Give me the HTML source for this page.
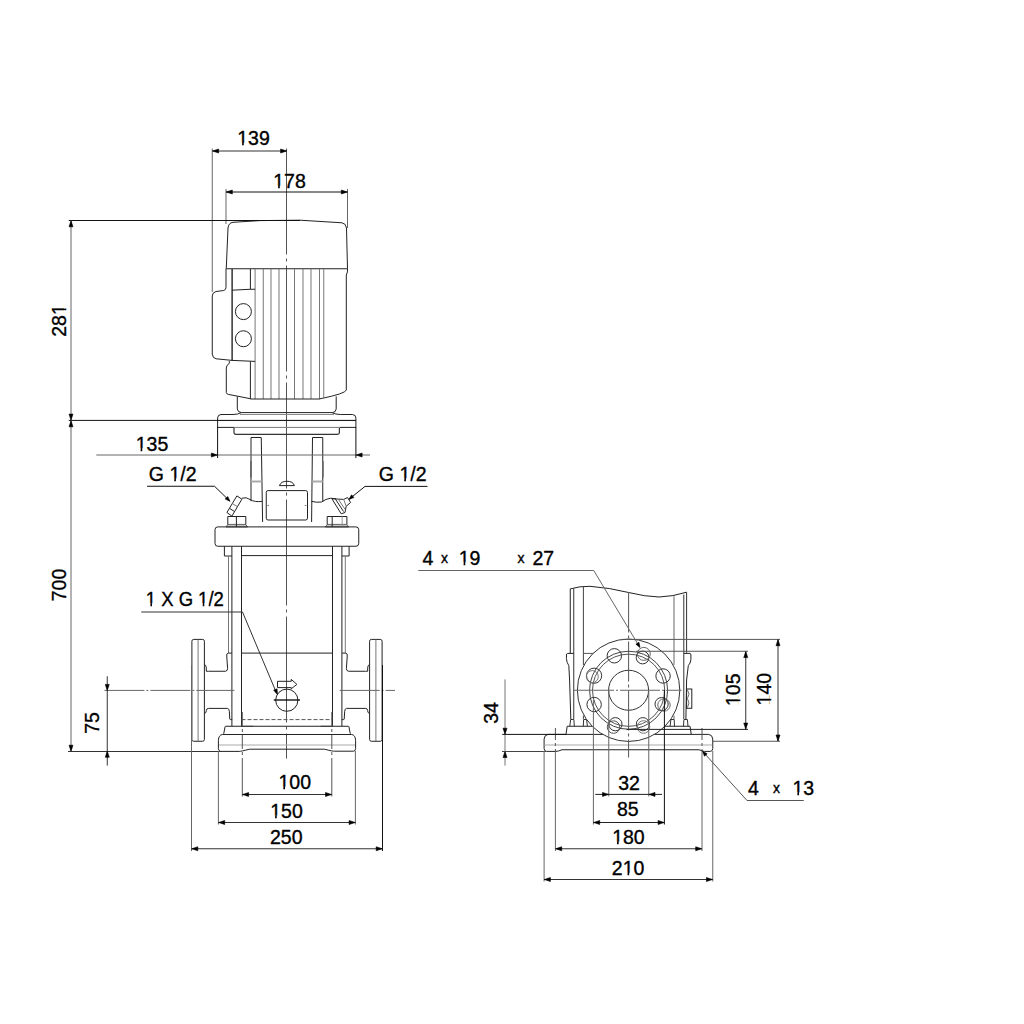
<!DOCTYPE html>
<html><head><meta charset="utf-8"><style>
html,body{margin:0;padding:0;background:#fff;}
svg{display:block;}
text{font-family:"Liberation Sans",sans-serif;fill:#000;stroke:#000;stroke-width:0.35px;}
</style></head><body>
<svg width="1024" height="1024" viewBox="0 0 1024 1024" stroke-linecap="butt">
<path d="M286.5,148.5 V758.6" stroke="#555" stroke-width="1" fill="none" stroke-dasharray="106,4,3,4"/>
<path d="M226.25,268.75 L228,228 Q228.5,222.8 233,222.3 L260,220.6 L300,220.2 L342,222.8 Q346,223.5 346.5,228 L347.5,268.75 Z" stroke="#222" stroke-width="1" fill="none"/>
<path d="M347.5,268.75 Q348,272 346.3,275 V390 Q346,393.5 320,398.8" stroke="#222" stroke-width="1" fill="none"/>
<line x1="255.1" y1="269" x2="255.1" y2="399" stroke="#777" stroke-width="1"/>
<line x1="263.25" y1="269" x2="263.25" y2="399" stroke="#777" stroke-width="1"/>
<line x1="271" y1="269" x2="271" y2="399" stroke="#777" stroke-width="1"/>
<line x1="279" y1="269" x2="279" y2="399" stroke="#777" stroke-width="1"/>
<line x1="294.5" y1="269" x2="294.5" y2="399" stroke="#777" stroke-width="1"/>
<line x1="303" y1="269" x2="303" y2="399" stroke="#777" stroke-width="1"/>
<line x1="311" y1="269" x2="311" y2="399" stroke="#777" stroke-width="1"/>
<line x1="319.5" y1="269" x2="319.5" y2="399" stroke="#777" stroke-width="1"/>
<line x1="323.75" y1="269" x2="323.75" y2="398.5" stroke="#777" stroke-width="1"/>
<line x1="250.5" y1="399" x2="320" y2="399" stroke="#222" stroke-width="1"/>
<path d="M226,268.6 V287.2 Q226,290 223.7,290.5 L216,291.5 Q212.3,292.5 212.25,296 V354 Q212.5,358.3 216.2,358.8 L232.1,360.4 L255.1,361.4" stroke="#222" stroke-width="1" fill="none"/>
<path d="M232.1,269 V360.4" stroke="#000" stroke-width="1.2" fill="none"/>
<path d="M232.1,290.2 L250.4,289.25 L255.1,289.25" stroke="#222" stroke-width="1" fill="none"/>
<line x1="250.4" y1="269" x2="250.4" y2="289.25" stroke="#222" stroke-width="1"/>
<circle cx="243.4" cy="311.6" r="8" stroke="#222" stroke-width="1" fill="none"/>
<circle cx="243.4" cy="338.75" r="8" stroke="#222" stroke-width="1" fill="none"/>
<path d="M229.3,361.1 V363.4 Q226.3,365 226.3,368.1 V392.5 Q226.5,394.2 228.4,394.4 L250.9,398.8" stroke="#222" stroke-width="1" fill="none"/>
<line x1="250.4" y1="361.4" x2="250.4" y2="398.6" stroke="#222" stroke-width="1"/>
<path d="M237.3,396.4 V408.9 Q237.5,412.3 241.5,412.6 H332.5 Q336,412.3 336.2,408.9 V396.4" stroke="#222" stroke-width="1" fill="none"/>
<path d="M241.5,412.6 Q238,414.5 233,414.5 H221 Q217.6,414.8 217.6,418 V427.4 H234" stroke="#222" stroke-width="1" fill="none"/>
<path d="M332,412.6 Q335.5,414.5 340.5,414.5 H352.5 Q355.9,414.8 355.9,418 V427.4 H339.5" stroke="#222" stroke-width="1" fill="none"/>
<line x1="234" y1="427.4" x2="339.5" y2="427.4" stroke="#777" stroke-width="1"/>
<line x1="240" y1="414.5" x2="334" y2="414.5" stroke="#888" stroke-width="1"/>
<line x1="217.6" y1="420.4" x2="355.9" y2="420.4" stroke="#000" stroke-width="1"/>
<path d="M234,428 V432.8 Q234.3,434.2 236,434.4 H337.5 Q339.3,434.2 339.4,432.8 V428" stroke="#333" stroke-width="1.2" fill="none"/>
<path d="M251,501.25 V437.5 H261.25 L262.6,522" stroke="#222" stroke-width="1" fill="none"/>
<path d="M322.75,501.9 V437.5 H312.5 L311.6,522" stroke="#222" stroke-width="1" fill="none"/>
<line x1="251" y1="481.5" x2="261.8" y2="481.5" stroke="#aaa" stroke-width="2"/>
<line x1="312.2" y1="481.5" x2="322.75" y2="481.5" stroke="#aaa" stroke-width="2"/>
<path d="M250.9,461 V477.5" stroke="#666" stroke-width="1.6" fill="none"/>
<path d="M322.9,461 V477.5" stroke="#666" stroke-width="1.6" fill="none"/>
<path d="M279.4,485.6 Q281,481.25 287,481.25 Q293,481.25 294.4,485.6 Z" stroke="#222" stroke-width="1" fill="none"/>
<rect x="266.25" y="490.6" width="41.25" height="29.4" rx="1.8" fill="none" stroke="#222" stroke-width="1"/>
<line x1="267.5" y1="505.5" x2="269" y2="505.5" stroke="#777" stroke-width="1"/>
<line x1="304.8" y1="505.5" x2="306.3" y2="505.5" stroke="#777" stroke-width="1"/>
<path d="M241.9,498.2 Q246.5,496.8 250,499.5 Q255,502.5 262.3,501.3" stroke="#222" stroke-width="1" fill="none"/>
<path d="M311.4,501.3 Q317,502.8 321.5,502 Q326,498.8 330.6,498.2 L336,498.8" stroke="#222" stroke-width="1" fill="none"/>
<path d="M226.9,512.5 L236.9,495.9 L241.9,499.2 L231.9,516.1 Z" stroke="#222" stroke-width="1" fill="none"/>
<line x1="229.6" y1="508.4" x2="234.5" y2="511.5" stroke="#222" stroke-width="1"/>
<line x1="232.4" y1="503.6" x2="237.4" y2="506.6" stroke="#777" stroke-width="1"/>
<path d="M331.9,498.75 L341.2,513.8 L345,512.5 L346.2,506.2 L350.6,502.5 L347.6,497.5 L343.7,499.4 Z" stroke="#222" stroke-width="1" fill="none"/>
<line x1="335.5" y1="499.2" x2="343.5" y2="511.5" stroke="#222" stroke-width="1"/>
<line x1="338.5" y1="499.5" x2="345.2" y2="509.5" stroke="#777" stroke-width="1"/>
<line x1="343.7" y1="499.4" x2="346.2" y2="506.2" stroke="#777" stroke-width="1"/>
<path d="M226.0,527 L227.8,524.4 H245.8 L247.60000000000002,527 Z" stroke="#444" stroke-width="0.8" fill="#c4c4c4"/>
<path d="M227.8,524.4 V516.5 H245.8 V524.4" stroke="#222" stroke-width="1" fill="none"/>
<line x1="236.4" y1="516.5" x2="236.4" y2="527" stroke="#222" stroke-width="1"/>
<path d="M325.4,527 L327.2,524.4 H346.9 L348.7,527 Z" stroke="#444" stroke-width="0.8" fill="#c4c4c4"/>
<path d="M327.2,524.4 V516.5 H346.9 V524.4" stroke="#222" stroke-width="1" fill="none"/>
<line x1="332.2" y1="516.5" x2="332.2" y2="527" stroke="#222" stroke-width="1"/>
<line x1="342.2" y1="516.5" x2="342.2" y2="527" stroke="#999" stroke-width="1"/>
<rect x="215" y="526.9" width="143.75" height="19.35" rx="2.8" fill="none" stroke="#222" stroke-width="1"/>
<path d="M224.4,546.25 V556 H231.9" stroke="#222" stroke-width="1" fill="none"/>
<path d="M349.1,546.25 V556 H341.9" stroke="#222" stroke-width="1" fill="none"/>
<path d="M231.9,546.25 V726.25" stroke="#222" stroke-width="1" fill="none"/>
<path d="M241.5,546.25 V726.25" stroke="#222" stroke-width="1" fill="none"/>
<path d="M332.5,546.25 V726.25" stroke="#222" stroke-width="1" fill="none"/>
<path d="M341.9,546.25 V726.25" stroke="#222" stroke-width="1" fill="none"/>
<line x1="241.5" y1="555.6" x2="332.5" y2="555.6" stroke="#222" stroke-width="1"/>
<line x1="228.5" y1="556" x2="228.5" y2="653.1" stroke="#777" stroke-width="1"/>
<line x1="345.3" y1="556" x2="345.3" y2="653.1" stroke="#777" stroke-width="1"/>
<line x1="241.5" y1="653.1" x2="332.5" y2="653.1" stroke="#222" stroke-width="1"/>
<line x1="241.5" y1="719.6" x2="332.5" y2="719.6" stroke="#555" stroke-width="1" stroke-dasharray="4,2"/>
<line x1="241.5" y1="726.25" x2="253.25" y2="726.25" stroke="#777" stroke-width="1"/>
<line x1="320.5" y1="726.25" x2="332.5" y2="726.25" stroke="#777" stroke-width="1"/>
<rect x="191.9" y="639.4" width="12.5" height="101.85" rx="1.8" fill="none" stroke="#222" stroke-width="1"/>
<line x1="198.1" y1="639.6" x2="198.1" y2="741" stroke="#777" stroke-width="1"/>
<path d="M204.4,664.4 Q206.3,665 206.3,668 V671.25 Q206.5,671.25 208.5,671.25 H225.5 Q227.6,671 227.6,668.5 L226.8,657 Q226,653.1 228.5,653.1 H231.9" stroke="#222" stroke-width="1" fill="none"/>
<path d="M204.4,713.5 Q206.3,713 206.3,711 V710.5 Q206.5,708.4 208.5,708.4 H227.5 Q229.3,708.8 229.3,711.25 L229.8,719.2 Q230,719.7 232.2,719.7" stroke="#222" stroke-width="1" fill="none"/>
<rect x="369.6" y="639.4" width="12.5" height="101.85" rx="1.8" fill="none" stroke="#222" stroke-width="1"/>
<line x1="375.9" y1="639.6" x2="375.9" y2="741" stroke="#777" stroke-width="1"/>
<path d="M369.6,664.4 Q367.7,665 367.7,668 V671.25 Q367.5,671.25 365.5,671.25 H348.5 Q346.4,671 346.4,668.5 L347.2,657 Q348,653.1 345.5,653.1 H342.1" stroke="#222" stroke-width="1" fill="none"/>
<path d="M369.6,713.5 Q367.7,713 367.7,711 V710.5 Q367.5,708.4 365.5,708.4 H346.5 Q344.7,708.8 344.7,711.25 L344.2,719.2 Q344,719.7 341.8,719.7" stroke="#222" stroke-width="1" fill="none"/>
<line x1="104.4" y1="690.4" x2="234.4" y2="690.4" stroke="#666" stroke-width="1" stroke-dasharray="40,2,2,2"/>
<line x1="339.6" y1="690.4" x2="395" y2="690.4" stroke="#666" stroke-width="1" stroke-dasharray="40,2,2,2"/>
<circle cx="286.8" cy="700.2" r="11.1" stroke="#222" stroke-width="1" fill="none"/>
<line x1="273.75" y1="700" x2="300" y2="700" stroke="#000" stroke-width="1.3"/>
<path d="M277.5,681.3 H291.25 V679.4 L296.9,684.4 L291.25,688.75 V687.6 H277.5 Z" stroke="#222" stroke-width="1" fill="none"/>
<path d="M223.7,733.8 L225.1,726.7 Q225.3,726.25 226,726.25 H348 Q348.7,726.25 348.9,726.7 L350.3,733.8" stroke="#222" stroke-width="1" fill="none"/>
<path d="M222.3,734.5 H351.7 Q355.3,735 355.6,740.3 V748.7 Q355.4,751 353.6,751.2 H334.8 Q333,751.4 324.5,749.2 H249.5 Q241,751.4 239.2,751.4 H220.4 Q218.6,751 218.4,748.7 V740.3 Q218.7,735 222.3,734.5 Z" stroke="#222" stroke-width="1" fill="none"/>
<line x1="219" y1="745" x2="355" y2="745" stroke="#aaa" stroke-width="1.2"/>
<line x1="242.3" y1="712" x2="242.3" y2="758" stroke="#555" stroke-width="1" stroke-dasharray="14,3,3,3"/>
<line x1="242.3" y1="758" x2="242.3" y2="796.5" stroke="#555" stroke-width="1"/>
<line x1="331.8" y1="712" x2="331.8" y2="758" stroke="#555" stroke-width="1" stroke-dasharray="14,3,3,3"/>
<line x1="331.8" y1="758" x2="331.8" y2="796.5" stroke="#555" stroke-width="1"/>
<line x1="212.25" y1="148.5" x2="212.25" y2="292" stroke="#666" stroke-width="1"/>
<line x1="212.25" y1="151" x2="286.5" y2="151" stroke="#333" stroke-width="1"/>
<path d="M212.60,151.00L218.60,149.00L218.60,153.00Z" fill="#000" stroke="#000" stroke-width="0.6" stroke-linejoin="round"/>
<path d="M286.60,151.00L280.60,153.00L280.60,149.00Z" fill="#000" stroke="#000" stroke-width="0.6" stroke-linejoin="round"/>
<line x1="226" y1="189" x2="226" y2="224" stroke="#666" stroke-width="1"/>
<line x1="347.5" y1="189" x2="347.5" y2="228" stroke="#666" stroke-width="1"/>
<line x1="226" y1="192" x2="347.5" y2="192" stroke="#111" stroke-width="1"/>
<path d="M226.30,192.00L232.30,190.00L232.30,194.00Z" fill="#000" stroke="#000" stroke-width="0.6" stroke-linejoin="round"/>
<path d="M347.30,192.00L341.30,194.00L341.30,190.00Z" fill="#000" stroke="#000" stroke-width="0.6" stroke-linejoin="round"/>
<line x1="68.75" y1="220.5" x2="300" y2="220.5" stroke="#111" stroke-width="1"/>
<line x1="71" y1="220.5" x2="71" y2="420.4" stroke="#666" stroke-width="1"/>
<path d="M71.00,220.80L73.00,226.80L69.00,226.80Z" fill="#000" stroke="#000" stroke-width="0.6" stroke-linejoin="round"/>
<path d="M71.00,420.10L69.00,414.10L73.00,414.10Z" fill="#000" stroke="#000" stroke-width="0.6" stroke-linejoin="round"/>
<line x1="71" y1="420.4" x2="71" y2="751.5" stroke="#666" stroke-width="1"/>
<path d="M71.00,420.80L73.00,426.80L69.00,426.80Z" fill="#000" stroke="#000" stroke-width="0.6" stroke-linejoin="round"/>
<path d="M71.00,751.20L69.00,745.20L73.00,745.20Z" fill="#000" stroke="#000" stroke-width="0.6" stroke-linejoin="round"/>
<line x1="68.75" y1="420.4" x2="218" y2="420.4" stroke="#111" stroke-width="1"/>
<line x1="68" y1="751.5" x2="222" y2="751.5" stroke="#333" stroke-width="1"/>
<line x1="96.25" y1="455" x2="370" y2="455" stroke="#666" stroke-width="1"/>
<line x1="217.6" y1="427" x2="217.6" y2="458" stroke="#111" stroke-width="1"/>
<line x1="355.9" y1="427" x2="355.9" y2="458" stroke="#111" stroke-width="1"/>
<path d="M217.40,455.00L211.40,457.00L211.40,453.00Z" fill="#000" stroke="#000" stroke-width="0.6" stroke-linejoin="round"/>
<path d="M356.10,455.00L362.10,453.00L362.10,457.00Z" fill="#000" stroke="#000" stroke-width="0.6" stroke-linejoin="round"/>
<path d="M147,486.25 H214.5 L229.5,500.8" stroke="#111" stroke-width="1" fill="none"/>
<path d="M230.00,501.30L225.19,499.04L227.74,496.49Z" fill="#000" stroke="#000" stroke-width="0.6" stroke-linejoin="round"/>
<path d="M427.5,486.4 H365 L349.5,498.9" stroke="#111" stroke-width="1" fill="none"/>
<path d="M348.90,499.40L351.59,494.82L353.89,497.58Z" fill="#000" stroke="#000" stroke-width="0.6" stroke-linejoin="round"/>
<path d="M141.25,612 H242.5 L276.5,693" stroke="#333" stroke-width="1" fill="none"/>
<path d="M277.50,694.60L273.71,690.23L277.03,688.83Z" fill="#000" stroke="#000" stroke-width="0.6" stroke-linejoin="round"/>
<line x1="107.25" y1="676.25" x2="107.25" y2="765.6" stroke="#333" stroke-width="1"/>
<path d="M107.25,690.40L105.25,684.40L109.25,684.40Z" fill="#000" stroke="#000" stroke-width="0.6" stroke-linejoin="round"/>
<path d="M107.25,751.25L109.25,757.25L105.25,757.25Z" fill="#000" stroke="#000" stroke-width="0.6" stroke-linejoin="round"/>
<line x1="242.3" y1="794.5" x2="331.8" y2="794.5" stroke="#333" stroke-width="1"/>
<path d="M242.60,794.50L248.60,792.50L248.60,796.50Z" fill="#000" stroke="#000" stroke-width="0.6" stroke-linejoin="round"/>
<path d="M331.50,794.50L325.50,796.50L325.50,792.50Z" fill="#000" stroke="#000" stroke-width="0.6" stroke-linejoin="round"/>
<line x1="218.4" y1="751" x2="218.4" y2="824.5" stroke="#666" stroke-width="1"/>
<line x1="355.4" y1="751" x2="355.4" y2="824.5" stroke="#666" stroke-width="1"/>
<line x1="218.4" y1="822.5" x2="355.4" y2="822.5" stroke="#333" stroke-width="1"/>
<path d="M218.70,822.50L224.70,820.50L224.70,824.50Z" fill="#000" stroke="#000" stroke-width="0.6" stroke-linejoin="round"/>
<path d="M355.10,822.50L349.10,824.50L349.10,820.50Z" fill="#000" stroke="#000" stroke-width="0.6" stroke-linejoin="round"/>
<line x1="191.5" y1="665" x2="191.5" y2="851" stroke="#666" stroke-width="1"/>
<line x1="382.5" y1="665" x2="382.5" y2="851" stroke="#111" stroke-width="1"/>
<line x1="191.5" y1="848.75" x2="382.5" y2="848.75" stroke="#333" stroke-width="1"/>
<path d="M191.80,848.75L197.80,846.75L197.80,850.75Z" fill="#000" stroke="#000" stroke-width="0.6" stroke-linejoin="round"/>
<path d="M382.20,848.75L376.20,850.75L376.20,846.75Z" fill="#000" stroke="#000" stroke-width="0.6" stroke-linejoin="round"/>
<path d="M570.25,588.9 Q580,586 590,586.3 Q610,587.8 628.6,592.5 Q645,596.6 659,597 Q673,596.6 686.6,592.2" stroke="#222" stroke-width="1" fill="none"/>
<line x1="570.25" y1="588.9" x2="570.25" y2="653.4" stroke="#222" stroke-width="1"/>
<line x1="573.75" y1="588.5" x2="573.75" y2="719" stroke="#333" stroke-width="1"/>
<line x1="583.4" y1="587" x2="583.4" y2="665" stroke="#444" stroke-width="1"/>
<line x1="583.4" y1="715.5" x2="583.4" y2="719" stroke="#444" stroke-width="1"/>
<line x1="674" y1="596.3" x2="674" y2="665" stroke="#666" stroke-width="1"/>
<line x1="674" y1="715.5" x2="674" y2="719" stroke="#666" stroke-width="1"/>
<line x1="683.8" y1="594.5" x2="683.8" y2="719" stroke="#333" stroke-width="1"/>
<line x1="686.6" y1="592.2" x2="686.6" y2="652.75" stroke="#333" stroke-width="1"/>
<path d="M573.75,653.4 H567.5 Q566.5,653.6 566.5,655 L566.4,658.5 Q566.8,663 568.8,665.5 L569.6,680 L570.8,719" stroke="#222" stroke-width="1" fill="none"/>
<path d="M683.8,653.4 H690 Q690.9,653.6 690.9,655 V659.5 Q690.5,663.5 688.3,665.6 L686.6,680 L685.9,719" stroke="#222" stroke-width="1" fill="none"/>
<line x1="583.4" y1="653.4" x2="595" y2="653.4" stroke="#555" stroke-width="1"/>
<path d="M569.8,726.25 L570.6,719.5 H573.9 L574.3,726.25" stroke="#333" stroke-width="1" fill="none"/>
<path d="M583.3,726.25 L583.6,719.5 H586.6 L587.4,726.25" stroke="#333" stroke-width="1" fill="none"/>
<path d="M670.1,726.25 L670.9,719.5 H674.2 L674.5,726.25" stroke="#333" stroke-width="1" fill="none"/>
<path d="M683.5,726.25 L683.9,719.5 H687.4 L688,726.25" stroke="#333" stroke-width="1" fill="none"/>
<path d="M566,734.4 L567.2,726.25 H690 L691.25,734.4" stroke="#222" stroke-width="1" fill="none"/>
<path d="M548,734.4 H708.8 Q712.5,735 712.75,739 V748.5 Q712.6,751.2 710.5,751.4 H704.5 Q702.5,751 699,749.75 H562 Q558,751.4 556,751.4 H546.5 Q544.2,751.2 544.1,748.5 V739 Q544.3,735 548,734.4 Z" stroke="#222" stroke-width="1" fill="none"/>
<line x1="544.5" y1="745" x2="712.3" y2="745" stroke="#aaa" stroke-width="1.2"/>
<circle cx="628.6" cy="690.25" r="51.2" fill="#fff" stroke="#333" stroke-width="1"/>
<circle cx="628.6" cy="690.25" r="20" stroke="#333" stroke-width="1" fill="none"/>
<circle cx="628.6" cy="690.25" r="39" stroke="#444" stroke-width="1" fill="none"/>
<circle cx="628.6" cy="690.25" r="36.1" stroke="#555" stroke-width="1" fill="none"/>
<circle cx="642.6" cy="657.5" r="6.4" stroke="#333" stroke-width="1" fill="none"/>
<circle cx="643.8" cy="653.9" r="6.5" stroke="#666" stroke-width="1" fill="none"/>
<circle cx="663.06" cy="675.98" r="7.2" stroke="#333" stroke-width="1" fill="none"/>
<circle cx="661.6" cy="704.1" r="6.6" stroke="#333" stroke-width="1" fill="none"/>
<circle cx="664" cy="705" r="6.2" stroke="#666" stroke-width="1" fill="none"/>
<circle cx="642.9" cy="724.2" r="6.6" stroke="#333" stroke-width="1" fill="none"/>
<circle cx="643.5" cy="727" r="6.3" stroke="#777" stroke-width="1" fill="none"/>
<circle cx="615.4" cy="724.2" r="6.6" stroke="#333" stroke-width="1" fill="none"/>
<circle cx="613.5" cy="727.1" r="6.25" stroke="#555" stroke-width="1" fill="none"/>
<circle cx="594.14" cy="704.52" r="7.2" stroke="#333" stroke-width="1" fill="none"/>
<circle cx="594.1" cy="675.7" r="7.6" stroke="#333" stroke-width="1" fill="none"/>
<circle cx="592.3" cy="676.6" r="6.0" stroke="#777" stroke-width="1" fill="none"/>
<circle cx="614.33" cy="655.79" r="7.2" stroke="#333" stroke-width="1" fill="none"/>
<line x1="574" y1="690.25" x2="681.5" y2="690.25" stroke="#666" stroke-width="1" stroke-dasharray="40,2,2,2"/>
<line x1="628.6" y1="592.5" x2="628.6" y2="757.5" stroke="#555" stroke-width="1" stroke-dasharray="40,3,3,3"/>
<rect x="686.6" y="689" width="5.2" height="19.3" fill="none" stroke="#222" stroke-width="1"/>
<path d="M687.5,690 Q690.5,694 687.5,698.5 Q690.5,703 687.5,707.5" stroke="#444" stroke-width="0.8" fill="none"/>
<line x1="555.4" y1="728" x2="555.4" y2="752" stroke="#555" stroke-width="1" stroke-dasharray="12,3,3,3"/>
<line x1="555.4" y1="752" x2="555.4" y2="851" stroke="#666" stroke-width="1"/>
<line x1="702" y1="728" x2="702" y2="752" stroke="#555" stroke-width="1" stroke-dasharray="12,3,3,3"/>
<line x1="702" y1="752" x2="702" y2="851" stroke="#666" stroke-width="1"/>
<path d="M418.25,570.5 H593.75 L639.5,646.8" stroke="#666" stroke-width="1" fill="none"/>
<path d="M640.00,647.50L635.88,644.14L638.97,642.29Z" fill="#000" stroke="#000" stroke-width="0.6" stroke-linejoin="round"/>
<line x1="621.5" y1="639.4" x2="780" y2="639.4" stroke="#555" stroke-width="1"/>
<line x1="712.5" y1="741.25" x2="780" y2="741.25" stroke="#555" stroke-width="1"/>
<line x1="778" y1="639.4" x2="778" y2="741.25" stroke="#333" stroke-width="1"/>
<path d="M778.00,639.70L780.00,645.70L776.00,645.70Z" fill="#000" stroke="#000" stroke-width="0.6" stroke-linejoin="round"/>
<path d="M778.00,741.00L776.00,735.00L780.00,735.00Z" fill="#000" stroke="#000" stroke-width="0.6" stroke-linejoin="round"/>
<line x1="636" y1="651.25" x2="748" y2="651.25" stroke="#555" stroke-width="1"/>
<line x1="626.5" y1="729.4" x2="748" y2="729.4" stroke="#222" stroke-width="1"/>
<line x1="745.75" y1="651.4" x2="745.75" y2="729.4" stroke="#333" stroke-width="1"/>
<path d="M745.75,651.60L747.75,657.60L743.75,657.60Z" fill="#000" stroke="#000" stroke-width="0.6" stroke-linejoin="round"/>
<path d="M745.75,729.10L743.75,723.10L747.75,723.10Z" fill="#000" stroke="#000" stroke-width="0.6" stroke-linejoin="round"/>
<line x1="505" y1="679.4" x2="505" y2="765.6" stroke="#777" stroke-width="1"/>
<path d="M505.00,734.20L503.00,728.20L507.00,728.20Z" fill="#000" stroke="#000" stroke-width="0.6" stroke-linejoin="round"/>
<path d="M505.00,751.50L507.00,757.50L503.00,757.50Z" fill="#000" stroke="#000" stroke-width="0.6" stroke-linejoin="round"/>
<line x1="502.25" y1="734.4" x2="566" y2="734.4" stroke="#111" stroke-width="1"/>
<line x1="502" y1="751.5" x2="546" y2="751.5" stroke="#444" stroke-width="1"/>
<line x1="608.75" y1="690.5" x2="608.75" y2="796.5" stroke="#666" stroke-width="1"/>
<line x1="648.75" y1="690.5" x2="648.75" y2="796.5" stroke="#666" stroke-width="1"/>
<line x1="595.25" y1="794.4" x2="662" y2="794.4" stroke="#222" stroke-width="1"/>
<path d="M608.50,794.40L602.50,796.40L602.50,792.40Z" fill="#000" stroke="#000" stroke-width="0.6" stroke-linejoin="round"/>
<path d="M649.00,794.40L655.00,792.40L655.00,796.40Z" fill="#000" stroke="#000" stroke-width="0.6" stroke-linejoin="round"/>
<line x1="593.4" y1="700" x2="593.4" y2="824.5" stroke="#666" stroke-width="1"/>
<line x1="664.4" y1="690" x2="664.4" y2="824.5" stroke="#111" stroke-width="1"/>
<line x1="593.4" y1="822.5" x2="664.4" y2="822.5" stroke="#222" stroke-width="1"/>
<path d="M593.70,822.50L599.70,820.50L599.70,824.50Z" fill="#000" stroke="#000" stroke-width="0.6" stroke-linejoin="round"/>
<path d="M664.10,822.50L658.10,824.50L658.10,820.50Z" fill="#000" stroke="#000" stroke-width="0.6" stroke-linejoin="round"/>
<line x1="555.4" y1="848.75" x2="702" y2="848.75" stroke="#333" stroke-width="1"/>
<path d="M555.70,848.75L561.70,846.75L561.70,850.75Z" fill="#000" stroke="#000" stroke-width="0.6" stroke-linejoin="round"/>
<path d="M701.70,848.75L695.70,850.75L695.70,846.75Z" fill="#000" stroke="#000" stroke-width="0.6" stroke-linejoin="round"/>
<line x1="544.1" y1="751" x2="544.1" y2="881.5" stroke="#666" stroke-width="1"/>
<line x1="712.75" y1="751" x2="712.75" y2="881.5" stroke="#666" stroke-width="1"/>
<line x1="544.1" y1="879.5" x2="712.75" y2="879.5" stroke="#333" stroke-width="1"/>
<path d="M544.40,879.50L550.40,877.50L550.40,881.50Z" fill="#000" stroke="#000" stroke-width="0.6" stroke-linejoin="round"/>
<path d="M712.45,879.50L706.45,881.50L706.45,877.50Z" fill="#000" stroke="#000" stroke-width="0.6" stroke-linejoin="round"/>
<path d="M803.75,800.5 H747 L703,751.8" stroke="#555" stroke-width="1" fill="none"/>
<path d="M702.50,751.25L707.18,753.76L704.51,756.17Z" fill="#000" stroke="#000" stroke-width="0.6" stroke-linejoin="round"/>
<text x="253.5" y="145" font-size="19.5" text-anchor="middle">139</text>
<text x="289.5" y="188" font-size="19.5" text-anchor="middle">178</text>
<text x="66" y="320.5" font-size="19.5" text-anchor="middle" transform="rotate(-90 66 320.5)">281</text>
<text x="66" y="585" font-size="19.5" text-anchor="middle" transform="rotate(-90 66 585)">700</text>
<text x="152" y="450.5" font-size="19.5" text-anchor="middle">135</text>
<text x="148.8" y="480.5" font-size="19.5" text-anchor="start">G 1/2</text>
<text x="378.8" y="480.5" font-size="19.5" text-anchor="start">G 1/2</text>
<text x="145.8" y="605.5" font-size="19.5" text-anchor="start" textLength="78" lengthAdjust="spacingAndGlyphs">1 X G 1/2</text>
<text x="98.75" y="723" font-size="19.5" text-anchor="middle" transform="rotate(-90 98.75 723)">75</text>
<text x="294.75" y="788.75" font-size="19.5" text-anchor="middle">100</text>
<text x="286.5" y="817.5" font-size="19.5" text-anchor="middle">150</text>
<text x="286.25" y="843.75" font-size="19.5" text-anchor="middle">250</text>
<text x="422.5" y="564.5" font-size="19.5" text-anchor="start">4</text>
<text x="441" y="563" font-size="14" text-anchor="start">x</text>
<text x="458.75" y="564.5" font-size="19.5" text-anchor="start">19</text>
<text x="517.5" y="563" font-size="14" text-anchor="start">x</text>
<text x="532.5" y="564.5" font-size="19.5" text-anchor="start">27</text>
<text x="498" y="713" font-size="19.5" text-anchor="middle" transform="rotate(-90 498 713)">34</text>
<text x="740.25" y="689.75" font-size="19.5" text-anchor="middle" transform="rotate(-90 740.25 689.75)">105</text>
<text x="771.5" y="689.1" font-size="19.5" text-anchor="middle" transform="rotate(-90 771.5 689.1)">140</text>
<text x="748" y="794.5" font-size="19.5" text-anchor="start">4</text>
<text x="773" y="793" font-size="14" text-anchor="start">x</text>
<text x="792.5" y="794.5" font-size="19.5" text-anchor="start">13</text>
<text x="629" y="789.5" font-size="19.5" text-anchor="middle">32</text>
<text x="627.75" y="815.5" font-size="19.5" text-anchor="middle">85</text>
<text x="628.4" y="843.75" font-size="19.5" text-anchor="middle">180</text>
<text x="628.1" y="875" font-size="19.5" text-anchor="middle">210</text>
<rect x="237.23" y="142.85" width="4.86" height="3.75" fill="#fff"/><rect x="243.77" y="142.85" width="4.39" height="3.75" fill="#fff"/>
<rect x="273.23" y="185.85" width="4.86" height="3.75" fill="#fff"/><rect x="279.77" y="185.85" width="4.39" height="3.75" fill="#fff"/>
<g transform="rotate(-90 66 320.5)"><rect x="71.41" y="318.36" width="4.86" height="3.75" fill="#fff"/><rect x="77.96" y="318.36" width="4.39" height="3.75" fill="#fff"/></g>
<rect x="135.73" y="448.36" width="4.86" height="3.75" fill="#fff"/><rect x="142.27" y="448.36" width="4.39" height="3.75" fill="#fff"/>
<rect x="169.38" y="478.36" width="4.86" height="3.75" fill="#fff"/><rect x="175.92" y="478.36" width="4.39" height="3.75" fill="#fff"/>
<rect x="399.38" y="478.36" width="4.86" height="3.75" fill="#fff"/><rect x="405.92" y="478.36" width="4.39" height="3.75" fill="#fff"/>
<rect x="145.80" y="603.36" width="4.60" height="3.75" fill="#fff"/><rect x="151.99" y="603.36" width="4.16" height="3.75" fill="#fff"/>
<rect x="198.12" y="603.36" width="4.60" height="3.75" fill="#fff"/><rect x="204.31" y="603.36" width="4.16" height="3.75" fill="#fff"/>
<rect x="278.48" y="786.61" width="4.86" height="3.75" fill="#fff"/><rect x="285.02" y="786.61" width="4.39" height="3.75" fill="#fff"/>
<rect x="270.23" y="815.36" width="4.86" height="3.75" fill="#fff"/><rect x="276.77" y="815.36" width="4.39" height="3.75" fill="#fff"/>
<rect x="458.75" y="562.36" width="4.86" height="3.75" fill="#fff"/><rect x="465.29" y="562.36" width="4.39" height="3.75" fill="#fff"/>
<g transform="rotate(-90 740.25 689.75)"><rect x="723.98" y="687.61" width="4.86" height="3.75" fill="#fff"/><rect x="730.52" y="687.61" width="4.39" height="3.75" fill="#fff"/></g>
<g transform="rotate(-90 771.5 689.1)"><rect x="755.23" y="686.95" width="4.86" height="3.75" fill="#fff"/><rect x="761.77" y="686.95" width="4.39" height="3.75" fill="#fff"/></g>
<rect x="792.50" y="792.36" width="4.86" height="3.75" fill="#fff"/><rect x="799.04" y="792.36" width="4.39" height="3.75" fill="#fff"/>
<rect x="612.13" y="841.61" width="4.86" height="3.75" fill="#fff"/><rect x="618.67" y="841.61" width="4.39" height="3.75" fill="#fff"/>
<rect x="622.67" y="872.86" width="4.86" height="3.75" fill="#fff"/><rect x="629.21" y="872.86" width="4.39" height="3.75" fill="#fff"/>
</svg>
</body></html>
